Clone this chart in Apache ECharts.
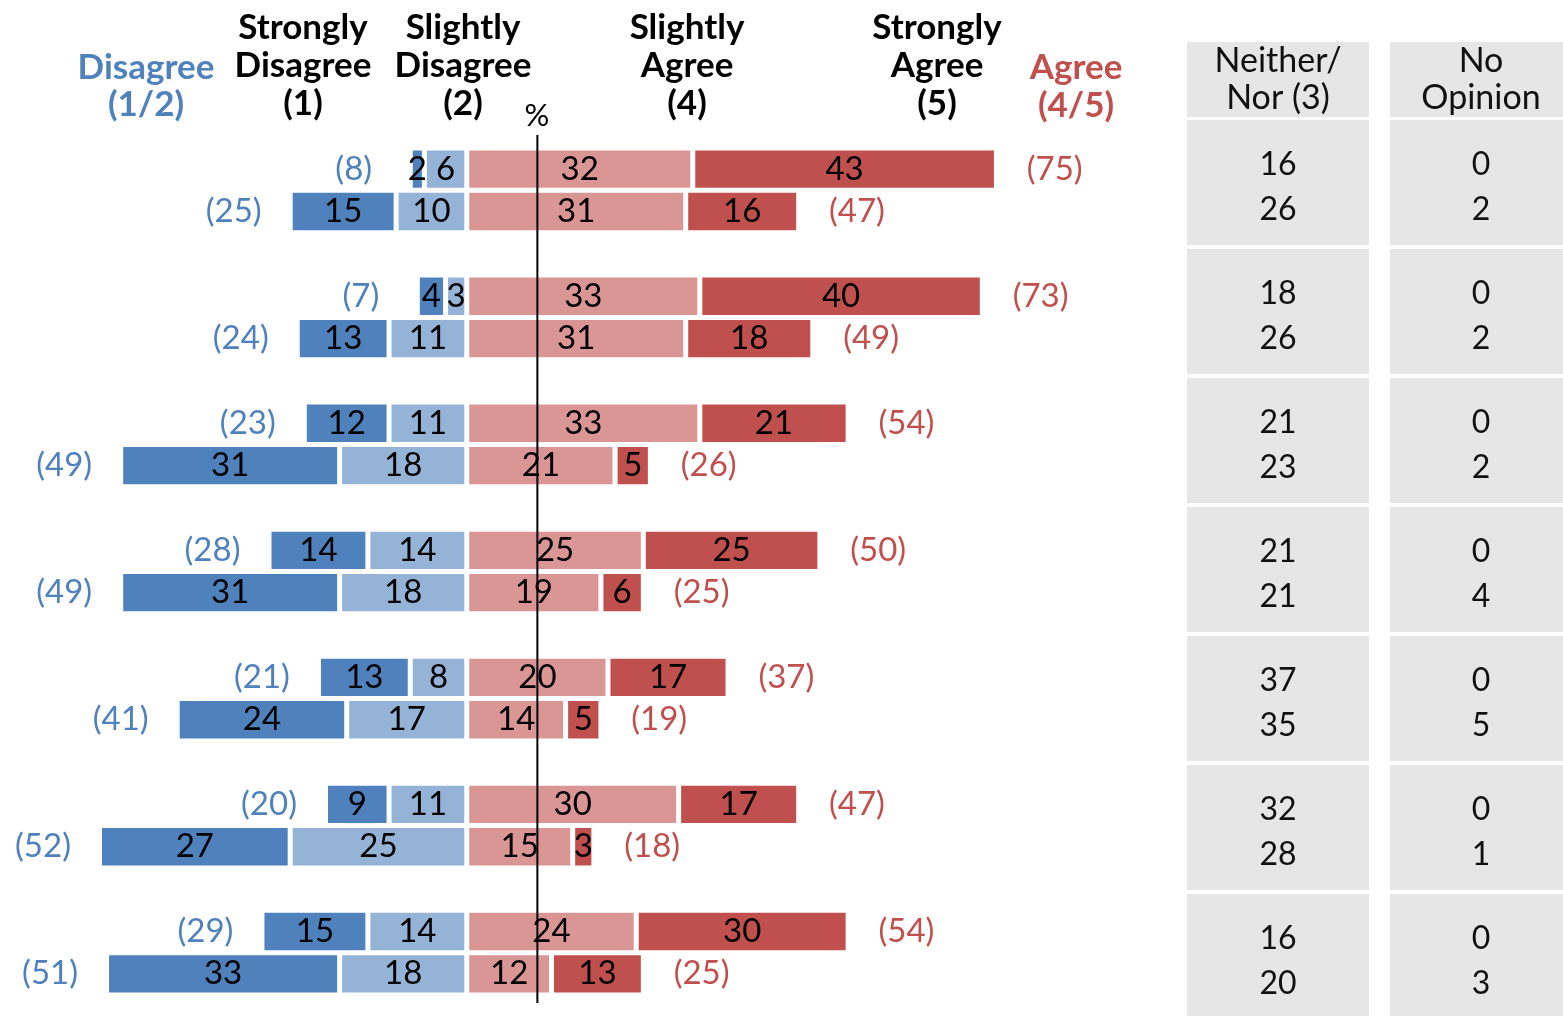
<!DOCTYPE html>
<html>
<head>
<meta charset="utf-8">
<script src="https://cdn.jsdelivr.net/npm/echarts@6/dist/echarts.min.js"></script>
<style>
html,body{margin:0;padding:0;background:#fff;}
#chart{width:1563px;height:1016px;}
</style>
</head>
<body>
<div id="chart"></div>
<script>
// ---- data (two rows per question: upper / lower) ----
const stronglyDisagree = [2,15, 4,13, 12,31, 14,31, 13,24, 9,27, 15,33];
const slightlyDisagree = [6,10, 3,11, 11,18, 14,18, 8,17, 11,25, 14,18];
const slightlyAgree    = [32,31, 33,31, 33,21, 25,19, 20,14, 30,15, 24,12];
const stronglyAgree    = [43,16, 40,18, 21,5, 25,6, 17,5, 17,3, 30,13];
const disagreeTotal    = [8,25, 7,24, 23,49, 28,49, 21,41, 20,52, 29,51];
const agreeTotal       = [75,47, 73,49, 54,26, 50,25, 37,19, 47,18, 54,25];
const neitherNor       = [16,26, 18,26, 21,23, 21,21, 37,35, 32,28, 16,20];
const noOpinion        = [0,2, 0,2, 0,2, 0,4, 0,5, 0,1, 0,3];
const referenceLine    = 10;
const headerLabels     = ['Disagree\n(1/2)', 'Strongly\nDisagree\n(1)', 'Slightly\nDisagree\n(2)', 'Slightly\nAgree\n(4)', 'Strongly\nAgree\n(5)', 'Agree\n(4/5)'];
const tableColumns     = ['Neither/\nNor (3)', 'No\nOpinion'];
const unitLabel        = '%';

// ---- build category slots: a, b, gap ----
const nGroups = stronglyDisagree.length / 2;
const cats = [];
const rowOfCat = [];
for (let g = 0; g < nGroups; g++) {
  cats.push('q' + (g + 1) + 'a'); rowOfCat.push(2 * g);
  cats.push('q' + (g + 1) + 'b'); rowOfCat.push(2 * g + 1);
  if (g < nGroups - 1) { cats.push('gap' + (g + 1)); rowOfCat.push(-1); }
}
const col = (arr, sign) => rowOfCat.map(r => r < 0 ? '-' : sign * arr[r]);
const pad = (v) => rowOfCat.map(r => r < 0 ? '-' : v);

const FONT = 'Lato, "Open Sans", sans-serif';
const C = { sd: '#4f81bd', sld: '#95b3d7', sla: '#da9694', sa: '#c0504d', grey: '#e6e6e6' };

const barLabel = { show: true, position: 'inside', color: '#000', fontSize: 33, fontFamily: FONT, formatter: p => Math.abs(p.value) };
const barItem = c => ({ color: c, borderColor: '#fff', borderWidth: 2.5 });

const tableData = [];
for (let g = 0; g < nGroups; g++) {
  tableData.push([0, g, neitherNor[2 * g], neitherNor[2 * g + 1]]);
  tableData.push([1, g, noOpinion[2 * g], noOpinion[2 * g + 1]]);
}

const chart = echarts.init(document.getElementById('chart'), null, { renderer: 'canvas' });

const hdr = (i, x, yc, color, lh) => ({
  type: 'text', silent: true,
  style: { text: headerLabels[i], x: x, y: yc, align: 'center', verticalAlign: 'middle',
           fontSize: 35, fontWeight: 'bold', fontFamily: FONT, lineHeight: lh, fill: color }
});

chart.setOption({
  animation: false,
  backgroundColor: '#fff',
  grid: [
    { left: 43, top: 148, width: 1130, height: 847, outerBoundsMode: 'none' },
    { left: 1278, top: 182.5, width: 203, height: 774, outerBoundsMode: 'none' },
    { left: 43, top: 135, width: 1130, height: 868, outerBoundsMode: 'none' }
  ],
  xAxis: [
    { gridIndex: 0, type: 'value', min: -60, max: 100, show: false },
    { gridIndex: 1, type: 'category', data: tableColumns, position: 'top', boundaryGap: false,
      axisLine: { show: false }, axisTick: { show: false }, splitLine: { show: false },
      axisLabel: { interval: 0, margin: 65.5, color: '#111', fontSize: 34, fontFamily: FONT,
                   lineHeight: 37, backgroundColor: C.grey, width: 182, align: 'center',
                   padding: [1, 0, 0, 0] } },
    { gridIndex: 2, type: 'value', min: -60, max: 100, show: false }
  ],
  yAxis: [
    { gridIndex: 0, type: 'category', data: cats, inverse: true, show: false },
    { gridIndex: 1, type: 'category', boundaryGap: false,
      data: Array.from({ length: nGroups }, (_, i) => 'q' + (i + 1)), inverse: true, show: false },
    { gridIndex: 2, type: 'value', min: 0, max: 1, show: false }
  ],
  graphic: [
    hdr(0, 146, 86, C.sd, 37),
    hdr(1, 303, 66, '#000', 38),
    hdr(2, 463, 66, '#000', 38),
    hdr(3, 687, 66, '#000', 38),
    hdr(4, 937, 66, '#000', 38),
    hdr(5, 1076, 87, C.sa, 38),
    { type: 'text', silent: true,
      style: { text: unitLabel, x: 537, y: 116, align: 'center', verticalAlign: 'middle',
               fontSize: 31, fontFamily: FONT, fill: '#000' } }
  ],
  series: [
    { name: 'Slightly Disagree', type: 'bar', stack: 'all', barCategoryGap: '0%', clip: false,
      data: col(slightlyDisagree, -1), itemStyle: barItem(C.sld), label: barLabel },
    { name: 'Strongly Disagree', type: 'bar', stack: 'all', clip: false,
      data: col(stronglyDisagree, -1), itemStyle: barItem(C.sd), label: barLabel },
    { name: 'Disagree total', type: 'bar', stack: 'all', silent: true, clip: false,
      data: pad(-16), itemStyle: { color: 'rgba(0,0,0,0)' },
      label: { show: true, position: 'inside', color: C.sd, fontSize: 33, fontFamily: FONT,
               formatter: p => '(' + disagreeTotal[rowOfCat[p.dataIndex]] + ')' } },
    { name: 'Slightly Agree', type: 'bar', stack: 'all', clip: false,
      data: col(slightlyAgree, 1), itemStyle: barItem(C.sla), label: barLabel },
    { name: 'Strongly Agree', type: 'bar', stack: 'all', clip: false,
      data: col(stronglyAgree, 1), itemStyle: barItem(C.sa), label: barLabel },
    { name: 'Agree total', type: 'bar', stack: 'all', silent: true, clip: false,
      data: pad(16.5), itemStyle: { color: 'rgba(0,0,0,0)' },
      label: { show: true, position: 'inside', color: C.sa, fontSize: 33, fontFamily: FONT,
               formatter: p => '(' + agreeTotal[rowOfCat[p.dataIndex]] + ')' } },
    { name: 'Reference', type: 'line', xAxisIndex: 2, yAxisIndex: 2, silent: true, z: 5,
      symbol: 'none', data: [[referenceLine, 0], [referenceLine, 1]],
      lineStyle: { color: '#000', width: 2 } },
    { name: 'Table', type: 'custom', xAxisIndex: 1, yAxisIndex: 1, silent: true, clip: false,
      data: tableData,
      renderItem: function (params, api) {
        const p = api.coord([api.value(0), api.value(1)]);
        const s = api.size([1, 1]);
        const w = s[0] - 21, h = s[1] - 4;
        return { type: 'group', children: [
          { type: 'rect', shape: { x: p[0] - w / 2, y: p[1] - h / 2, width: w, height: h },
            style: { fill: C.grey } },
          { type: 'text', style: { text: api.value(2) + '\n' + api.value(3), x: p[0], y: p[1] + 4.5,
            align: 'center', verticalAlign: 'middle', fontSize: 32, fontFamily: FONT,
            lineHeight: 45, fill: '#111' } }
        ] };
      } }
  ]
});
</script>
</body>
</html>
